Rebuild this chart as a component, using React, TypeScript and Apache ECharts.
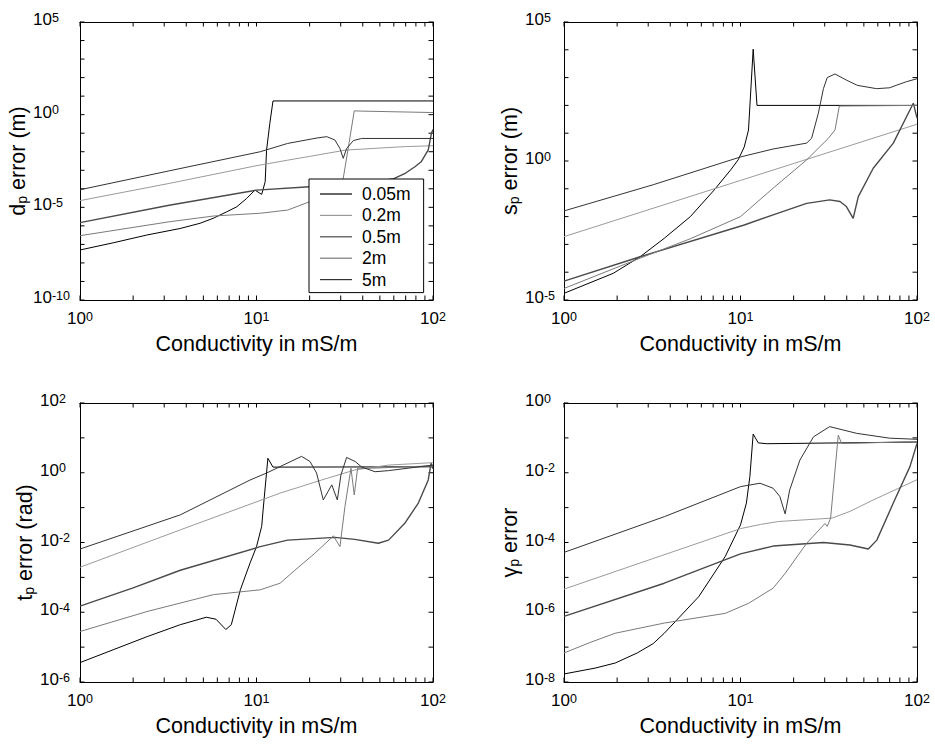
import React, { useEffect, useRef } from 'react';
import * as echarts from 'echarts';

type Pt = [number, number];

const FONT = '"Liberation Sans", Arial, Helvetica, sans-serif';

const seriesNames = ['0.05m', '0.2m', '0.5m', '2m', '5m'];
const seriesColors = ['#000000', '#9a9a9a', '#4a4a4a', '#7a7a7a', '#333333'];
const seriesWidths = [1, 1, 1.4, 1, 1];

const xTitle = 'Conductivity in mS/m';
const xLabelValues = [1, 10, 100];
const xTickValues = [1, 2, 3, 4, 5, 6, 7, 8, 9, 10, 20, 30, 40, 50, 60, 70, 80, 90, 100];

// ---------- panel 1 : d_p error (m) ----------
const dpYLabels = [1e-10, 1e-5, 1, 1e5];
const dp005: Pt[] = [[1, 5.0e-8], [1.55, 1.23e-7], [2.39, 3.2e-7], [3.69, 7.2e-7], [4.79, 1.38e-6], [5.69, 2.57e-6], [6.78, 5.75e-6], [7.73, 1.07e-5], [8.79, 3.0e-5], [9.8, 8.5e-5], [10.7, 5.0e-5], [11.2, 2.4e-4], [11.4, 1.2e-2], [11.9, 0.34], [12.4, 5.5], [100, 5.5]];
const dp02: Pt[] = [[1, 2.3e-5], [3.2, 1.95e-4], [9.8, 1.7e-3], [15, 3.5e-3], [20, 5.6e-3], [32, 1.23e-2], [50, 1.58e-2], [70, 1.9e-2], [100, 2.1e-2]];
const dp05: Pt[] = [[1, 1.5e-6], [3.2, 1.3e-5], [10, 8.5e-5], [20, 1.3e-4], [30, 1.66e-4], [45, 2.2e-4], [60, 3.5e-4], [70, 7.1e-4], [79, 1.55e-3], [86, 3.0e-3], [94, 1.25e-2], [98, 0.1], [100, 0.16]];
const dp2: Pt[] = [[1, 2.95e-7], [3.2, 1.66e-6], [5.7, 3.4e-6], [10.5, 4.8e-6], [15, 7.1e-6], [20, 2.0e-5], [25, 6.3e-5], [31, 3.6e-4], [33.5, 3.2e-2], [35.8, 1.6], [40, 1.55], [100, 1.3]];
const dp5: Pt[] = [[1, 8.9e-5], [3.2, 9.3e-4], [10.5, 1.0e-2], [15, 2.8e-2], [22, 5.5e-2], [25, 6.5e-2], [27.8, 4.3e-2], [29.7, 1.5e-2], [31, 4.4e-3], [32.4, 1.5e-2], [35.4, 4.0e-2], [39.4, 5.2e-2], [100, 5.2e-2]];

// ---------- panel 2 : s_p error (m) ----------
const spYLabels = [1e-5, 1, 1e5];
const sp005: Pt[] = [[1, 1.74e-5], [1.9, 9.1e-5], [2.7, 3.6e-4], [3.7, 1.66e-3], [5.2, 1.0e-2], [7.1, 9.1e-2], [8.8, 0.48], [9.7, 1.1], [10.5, 3.2], [11.1, 13], [11.8, 1.05e4], [12.4, 100], [100, 100]];
const sp02: Pt[] = [[1, 1.9e-3], [10, 0.2], [100, 21]];
const sp05: Pt[] = [[1, 4.8e-5], [2.7, 3.6e-4], [10.5, 5.0e-3], [15.3, 1.15e-2], [23.7, 3.0e-2], [32, 4.0e-2], [36.6, 3.5e-2], [39.8, 2.3e-2], [43.5, 8.7e-3], [46.5, 5.2e-2], [56.5, 0.55], [73.4, 4.4], [95.3, 120], [100, 35]];
const sp2: Pt[] = [[1, 2.6e-5], [2.7, 3.2e-4], [5.2, 1.6e-3], [10, 1.0e-2], [15.3, 0.105], [23.7, 1.1], [31.5, 6.6], [34.3, 13], [36.3, 95], [100, 100]];
const sp5: Pt[] = [[1, 1.6e-2], [3.2, 0.14], [10, 1.4], [15.3, 2.7], [23.7, 4.4], [25.3, 6.6], [27.6, 52], [29.5, 400], [31, 1000], [34.3, 1350], [40, 800], [46, 525], [59, 400], [70, 430], [77, 540], [87, 710], [100, 910]];

// ---------- panel 3 : t_p error (rad) ----------
const tpYLabels = [1e-6, 1e-4, 1e-2, 1, 1e2];
const tp005: Pt[] = [[1, 3.6e-6], [2.4, 2.0e-5], [3.7, 4.4e-5], [5.2, 7.2e-5], [5.9, 6.3e-5], [6.7, 3.2e-5], [7.2, 4.4e-5], [8.1, 4.4e-4], [9.2, 2.6e-3], [10, 7.6e-3], [10.7, 2.9e-2], [10.9, 8.5e-2], [11.3, 0.62], [11.6, 2.6], [12.4, 1.45], [100, 1.48]];
const tp02: Pt[] = [[1, 1.95e-3], [3.7, 2.3e-2], [13.6, 0.26], [23.4, 0.62], [36, 1.2], [56, 1.66], [100, 1.95]];
const tp05: Pt[] = [[1, 1.5e-4], [2, 5.0e-4], [3.7, 1.6e-3], [10.5, 7.6e-3], [15, 1.17e-2], [27.8, 1.4e-2], [36, 1.23e-2], [49, 9.5e-3], [56, 1.17e-2], [69, 3.5e-2], [82.6, 0.135], [94, 0.62], [97.5, 1.86], [100, 1.3]];
const tp2: Pt[] = [[1, 2.8e-5], [2.4, 1.05e-4], [5.7, 3.2e-4], [10.5, 4.4e-4], [13.6, 6.8e-4], [16.5, 1.6e-3], [21.4, 4.9e-3], [27.3, 1.55e-2], [29.7, 7.6e-3], [31.7, 0.107], [34.3, 1.35], [35.8, 0.23], [37.4, 1.35], [45, 1.35], [100, 1.58]];
const tp5: Pt[] = [[1, 6.5e-3], [3.7, 6.2e-2], [9.2, 0.62], [11.4, 0.98], [18, 2.95], [20.1, 2.1], [21.9, 0.98], [23.9, 0.166], [26.7, 0.45], [28.7, 0.166], [30.1, 0.87], [32.4, 2.75], [36.2, 2.1], [39.5, 1.45], [47, 1.07], [56, 1.15], [100, 1.66]];

// ---------- panel 4 : gamma_p error ----------
const gpYLabels = [1e-8, 1e-6, 1e-4, 1e-2, 1];
const gp005: Pt[] = [[1, 1.7e-8], [1.5, 2.5e-8], [1.95, 3.5e-8], [2.6, 6.8e-8], [3.2, 1.26e-7], [3.7, 2.5e-7], [5.8, 2.8e-6], [8.2, 4.0e-5], [10, 3.2e-4], [10.8, 1.35e-3], [11.3, 7.8e-3], [11.8, 0.129], [12.6, 7.2e-2], [14.1, 6.8e-2], [100, 7.6e-2]];
const gp02: Pt[] = [[1, 4.6e-6], [3.16, 3.4e-5], [10, 2.5e-4], [13, 3.3e-4], [16.4, 4.0e-4], [33, 5.0e-4], [41.7, 7.8e-4], [56.5, 1.66e-3], [100, 6.3e-3]];
const gp05: Pt[] = [[1, 7.6e-7], [3.7, 6.8e-6], [10, 4.7e-5], [15.3, 7.9e-5], [29.5, 1.0e-4], [41.7, 8.5e-5], [53, 6.5e-5], [59.2, 1.17e-4], [73.4, 1.35e-3], [91.2, 1.5e-2], [100, 6.9e-2]];
const gp2: Pt[] = [[1, 6.8e-8], [1.4, 1.35e-7], [1.95, 2.5e-7], [3.7, 4.9e-7], [8.2, 9.3e-7], [11.1, 1.8e-6], [15.3, 4.9e-6], [17.9, 1.3e-5], [23.7, 9.5e-5], [30.1, 3.5e-4], [31, 2.9e-4], [32.4, 5.0e-4], [35.8, 0.12], [37.4, 6.9e-2], [100, 7.8e-2]];
const gp5: Pt[] = [[1, 5.2e-5], [3.7, 5.5e-4], [10, 4.0e-3], [12.9, 5.0e-3], [15.3, 3.6e-3], [16.7, 2.1e-3], [17.9, 6.6e-4], [19, 3.2e-3], [21.7, 2.3e-2], [25.9, 0.107], [32, 0.21], [45.5, 0.135], [70, 9.8e-2], [100, 9.1e-2]];

const GRID_W = 353;
const panels = [
  { left: 80, top: 22, height: 278, yLabels: dpYLabels, yName: '{a|d}{s|p}{a| error (m)}', nameGap: 37, labelMargin: 47, data: [dp005, dp02, dp05, dp2, dp5] },
  { left: 564, top: 22, height: 278, yLabels: spYLabels, yName: '{a|s}{s|p}{a| error (m)}', nameGap: 29.5, labelMargin: 39, data: [sp005, sp02, sp05, sp2, sp5] },
  { left: 80, top: 403, height: 279, yLabels: tpYLabels, yName: '{a|t}{s|p}{a| error (rad)}', nameGap: 32, labelMargin: 40, data: [tp005, tp02, tp05, tp2, tp5] },
  { left: 564, top: 403, height: 279, yLabels: gpYLabels, yName: '{a|γ}{s|p}{a| error}', nameGap: 29.5, labelMargin: 39, data: [gp005, gp02, gp05, gp2, gp5] },
];

const lg = (v: number) => Math.log10(v);
const TICK_PX = 4.5;

const tickRich = {
  b: { fontSize: 17, lineHeight: 17, fontFamily: FONT, color: '#000', verticalAlign: 'bottom' },
  s: { fontSize: 12.5, lineHeight: 12, fontFamily: FONT, color: '#000', verticalAlign: 'top', padding: [0, 0, 9, 0] },
};
const fmt = (v: number) => `{b|10}{s|${Math.round(v)}}`;

const nameRich = {
  a: { fontSize: 21.5, lineHeight: 22, fontFamily: FONT, color: '#000', verticalAlign: 'top' },
  s: { fontSize: 14, lineHeight: 14, fontFamily: FONT, color: '#000', verticalAlign: 'bottom', padding: [19, 0, 0, 0] },
};

function buildOption() {
  const option: any = {
    animation: false,
    backgroundColor: '#ffffff',
    grid: [],
    xAxis: [],
    yAxis: [],
    series: [],
    legend: {
      show: true,
      orient: 'vertical',
      left: 309,
      top: 179,
      data: seriesNames,
      icon: 'rect',
      itemWidth: 32,
      itemHeight: 1.2,
      itemGap: 3.4,
      padding: [6, 13, 4, 11],
      backgroundColor: '#ffffff',
      borderColor: '#000000',
      borderWidth: 1,
      borderRadius: 0,
      selectedMode: false,
      textStyle: { fontSize: 17.5, fontFamily: FONT, color: '#000', lineHeight: 18, padding: [0, 0, 0, 5] },
      z: 10,
    },
  };
  const xLabels = xLabelValues.map(lg);
  const xLo = 0;
  const xHi = 2;
  panels.forEach((p, i) => {
    option.grid.push({ left: p.left, top: p.top, width: GRID_W, height: p.height, containLabel: false, outerBoundsMode: 'none' });
    const yLo = Math.round(lg(Math.min(...p.yLabels)));
    const yHi = Math.round(lg(Math.max(...p.yLabels)));
    const yLabels = p.yLabels.map((v) => Math.round(lg(v)));
    const common = {
      type: 'value',
      gridIndex: i,
      splitLine: { show: false },
      axisTick: { show: false },
      axisLine: { show: true, onZero: false, lineStyle: { color: '#000', width: 1 } },
    };
    option.xAxis.push({
      ...common, position: 'bottom', min: xLo, max: xHi,
      axisLabel: { show: true, customValues: xLabels, formatter: fmt, rich: tickRich, margin: 10 },
      name: xTitle, nameLocation: 'middle', nameGap: 30,
      nameTextStyle: { fontSize: 21.5, fontFamily: FONT, color: '#000', lineHeight: 22 },
    });
    option.xAxis.push({ ...common, position: 'top', min: xLo, max: xHi, axisLabel: { show: false } });
    option.yAxis.push({
      ...common, position: 'left', min: yLo, max: yHi,
      axisLabel: { show: true, customValues: yLabels, formatter: fmt, rich: tickRich, align: 'left', margin: p.labelMargin, padding: [0, 0, 5, 0] },
      name: p.yName, nameLocation: 'middle', nameGap: p.nameGap,
      nameTextStyle: { fontSize: 21.5, fontFamily: FONT, color: '#000', rich: nameRich },
    });
    option.yAxis.push({ ...common, position: 'right', min: yLo, max: yHi, axisLabel: { show: false } });

    // inward tick marks on all four sides, drawn as short segments in data space
    const dy = (TICK_PX / p.height) * (yHi - yLo);
    const dx = (TICK_PX / GRID_W) * (xHi - xLo);
    const tickData: any[] = [];
    xTickValues.forEach((xv) => {
      const x = lg(xv);
      tickData.push([x, yLo], [x, yLo + dy], [x, '-']);
      tickData.push([x, yHi], [x, yHi - dy], [x, '-']);
    });
    for (let e = yLo; e <= yHi; e++) {
      tickData.push([xLo, e], [xLo + dx, e], ['-', e]);
      tickData.push([xHi, e], [xHi - dx, e], ['-', e]);
    }
    option.series.push({
      type: 'line',
      name: 'axis ticks',
      xAxisIndex: 2 * i,
      yAxisIndex: 2 * i,
      data: tickData,
      symbol: 'none',
      showSymbol: false,
      connectNulls: false,
      clip: false,
      silent: true,
      lineStyle: { color: '#000', width: 1 },
      emphasis: { disabled: true },
      z: 3,
    });

    p.data.forEach((pts, k) => {
      option.series.push({
        type: 'line',
        name: seriesNames[k],
        xAxisIndex: 2 * i,
        yAxisIndex: 2 * i,
        data: pts.map(([x, y]) => [lg(x), lg(y)]),
        symbol: 'none',
        showSymbol: false,
        smooth: false,
        lineStyle: { color: seriesColors[k], width: seriesWidths[k] },
        itemStyle: { color: seriesColors[k] },
        emphasis: { disabled: true },
      });
    });
  });
  return option;
}

export default function App() {
  const ref = useRef<HTMLDivElement>(null);
  useEffect(() => {
    if (!ref.current) return;
    const chart = echarts.init(ref.current, null, { renderer: 'svg', width: 935, height: 749 });
    chart.setOption(buildOption());
    return () => chart.dispose();
  }, []);
  return (
    <div
      ref={ref}
      style={{ position: 'fixed', left: 0, top: 0, width: 935, height: 749, background: '#ffffff' }}
    />
  );
}
